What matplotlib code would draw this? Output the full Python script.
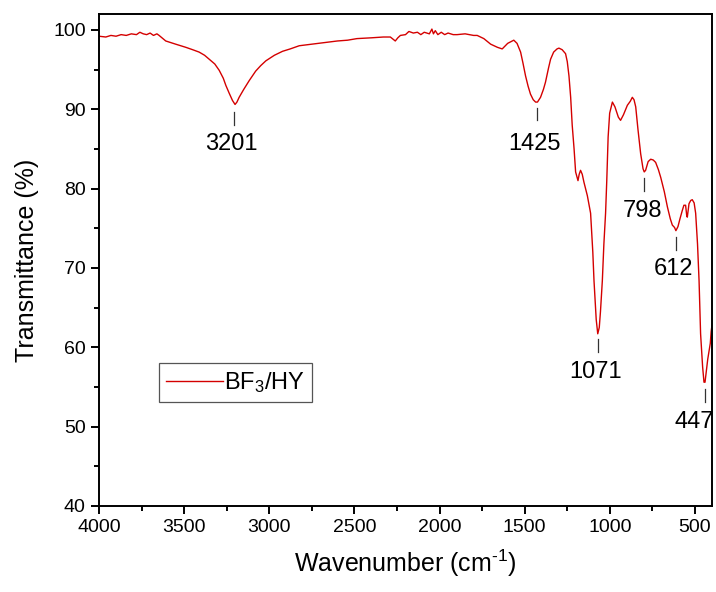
import matplotlib
matplotlib.use("Agg")
import matplotlib.pyplot as plt
from matplotlib.ticker import MultipleLocator

plt.rcParams['font.family'] = ['Liberation Sans', 'DejaVu Sans']
plt.rcParams['mathtext.fontset'] = 'custom'
plt.rcParams['mathtext.rm'] = 'Liberation Sans'
plt.rcParams['mathtext.it'] = 'Liberation Sans:italic'

# spectrum (cm-1, %T)
wavenumber = [4000, 3960, 3930, 3900, 3870, 3840, 3810, 3780, 3760, 3740, 3720, 3700,
              3680, 3660, 3647, 3630, 3608, 3580, 3550, 3520, 3490, 3450, 3412, 3380,
              3353, 3320, 3294, 3270, 3255, 3235, 3216, 3201, 3190, 3177, 3150, 3118,
              3080, 3050, 3020, 2970, 2922, 2877, 2824, 2750, 2681, 2600, 2540, 2485,
              2400, 2330, 2289, 2260, 2245, 2230, 2200, 2180, 2154, 2130, 2110, 2090,
              2060, 2045, 2036, 2025, 2010, 1990, 1970, 1950, 1920, 1897, 1850, 1800,
              1779, 1740, 1700, 1660, 1632, 1600, 1564, 1545, 1524, 1510, 1495, 1480,
              1466, 1450, 1436, 1425, 1407, 1390, 1378, 1360, 1348, 1330, 1310, 1299,
              1280, 1260, 1250, 1240, 1230, 1221, 1210, 1201, 1187, 1180, 1172, 1162,
              1152, 1132, 1113, 1100, 1093, 1080, 1071, 1062, 1055, 1044, 1035, 1025,
              1018, 1010, 1001, 985, 970, 950, 937, 920, 897, 880, 868, 858,
              848, 835, 819, 805, 798, 790, 775, 760, 745, 731, 715, 701,
              680, 662, 645, 633, 620, 612, 600, 588, 575, 565, 555, 548,
              545, 540, 535, 525, 516, 505, 496, 485, 476, 467, 455, 447,
              441, 433, 425, 417, 410, 405, 400]
transmittance = [99.2, 99.1, 99.3, 99.2, 99.4, 99.3, 99.5, 99.4, 99.7, 99.5, 99.4, 99.6,
                 99.3, 99.5, 99.3, 99.0, 98.6, 98.4, 98.2, 98.0, 97.8, 97.5, 97.2, 96.8,
                 96.3, 95.7, 94.9, 93.9, 93.0, 92.0, 91.1, 90.6, 90.9, 91.5, 92.5, 93.6,
                 94.8, 95.5, 96.1, 96.8, 97.3, 97.6, 98.0, 98.2, 98.4, 98.6, 98.7, 98.9,
                 99.0, 99.1, 99.1, 98.6, 99.0, 99.3, 99.4, 99.8, 99.6, 99.7, 99.4, 99.7,
                 99.5, 100.1, 99.5, 99.9, 99.4, 99.7, 99.4, 99.6, 99.4, 99.4, 99.5, 99.3,
                 99.3, 98.9, 98.2, 97.8, 97.6, 98.3, 98.7, 98.3, 97.2, 95.8, 94.2, 92.9,
                 91.9, 91.2, 90.9, 90.9, 91.5, 92.5, 93.4, 95.2, 96.3, 97.2, 97.6, 97.7,
                 97.5, 97.0, 96.0, 94.2, 91.5, 88.0, 85.0, 82.1, 81.0, 81.8, 82.3, 81.8,
                 80.8, 79.1, 76.9, 72.0, 68.4, 63.5, 61.7, 62.5, 64.5, 68.4, 73.0, 76.9,
                 81.0, 86.5, 89.5, 90.9, 90.3, 89.0, 88.6, 89.3, 90.5, 91.0, 91.5, 91.2,
                 90.3, 87.5, 84.4, 82.5, 82.1, 82.3, 83.4, 83.7, 83.6, 83.3, 82.4, 81.4,
                 79.6, 77.7, 76.2, 75.4, 75.1, 74.7, 75.2, 76.2, 77.2, 77.9, 77.9, 76.5,
                 76.4, 77.3, 78.1, 78.5, 78.6, 78.2, 76.9, 73.0, 68.4, 61.7, 57.5, 55.6,
                 55.6, 57.0, 58.5, 59.6, 60.5, 62.0, 62.8]

# peak marks
peak_labels = ['3201', '1425', '1071', '798', '612', '447']
peak_tick_x = [3205, 1428, 1068, 797, 613, 441]
peak_tick_top = [89.6, 90.2, 61.0, 81.3, 73.9, 54.7]
peak_text_x = [3220, 1440, 1084, 809, 629, 507]
peak_text_y = [85.6, 85.6, 56.9, 77.2, 69.9, 50.6]

color = '#d40000'

fig = plt.figure(figsize=(7.16, 5.92), dpi=100)
ax = fig.add_axes([99 / 716, 86 / 592, 613 / 716, 492 / 592])

ax.plot(wavenumber, transmittance, color=color, linewidth=1.0, label='BF$_3$/HY')

for lab, tx, tt, lx, ly in zip(peak_labels, peak_tick_x, peak_tick_top, peak_text_x, peak_text_y):
    ax.plot([tx, tx], [tt, tt - 1.6], color='#333333', linewidth=0.9)
    ax.text(lx, ly, lab, ha='center', va='center', fontsize=17)

ax.set_xlim(4000, 400)
ax.set_ylim(40, 102)
ax.xaxis.set_major_locator(MultipleLocator(500))
ax.xaxis.set_minor_locator(MultipleLocator(250))
ax.yaxis.set_major_locator(MultipleLocator(10))
ax.yaxis.set_minor_locator(MultipleLocator(5))
ax.tick_params(which='both', direction='out', width=1.4, labelsize=14, top=False, right=False)
ax.tick_params(which='major', length=6)
ax.tick_params(which='minor', length=3.5)
for sp in ax.spines.values():
    sp.set_linewidth(1.4)

ax.set_xlabel(r'Wavenumber (cm$^{\text{-1}}$)', fontsize=18, labelpad=8)
ax.set_ylabel('Transmittance (%)', fontsize=18, labelpad=10)

leg = ax.legend(loc='lower left', bbox_to_anchor=(0.098, 0.211), borderaxespad=0,
                fontsize=17, frameon=True, fancybox=False, edgecolor='#555555',
                framealpha=1, handlelength=2.4, handletextpad=0.05, borderpad=0.3)
leg.get_frame().set_linewidth(0.9)

fig.savefig('out.png', dpi=100)
